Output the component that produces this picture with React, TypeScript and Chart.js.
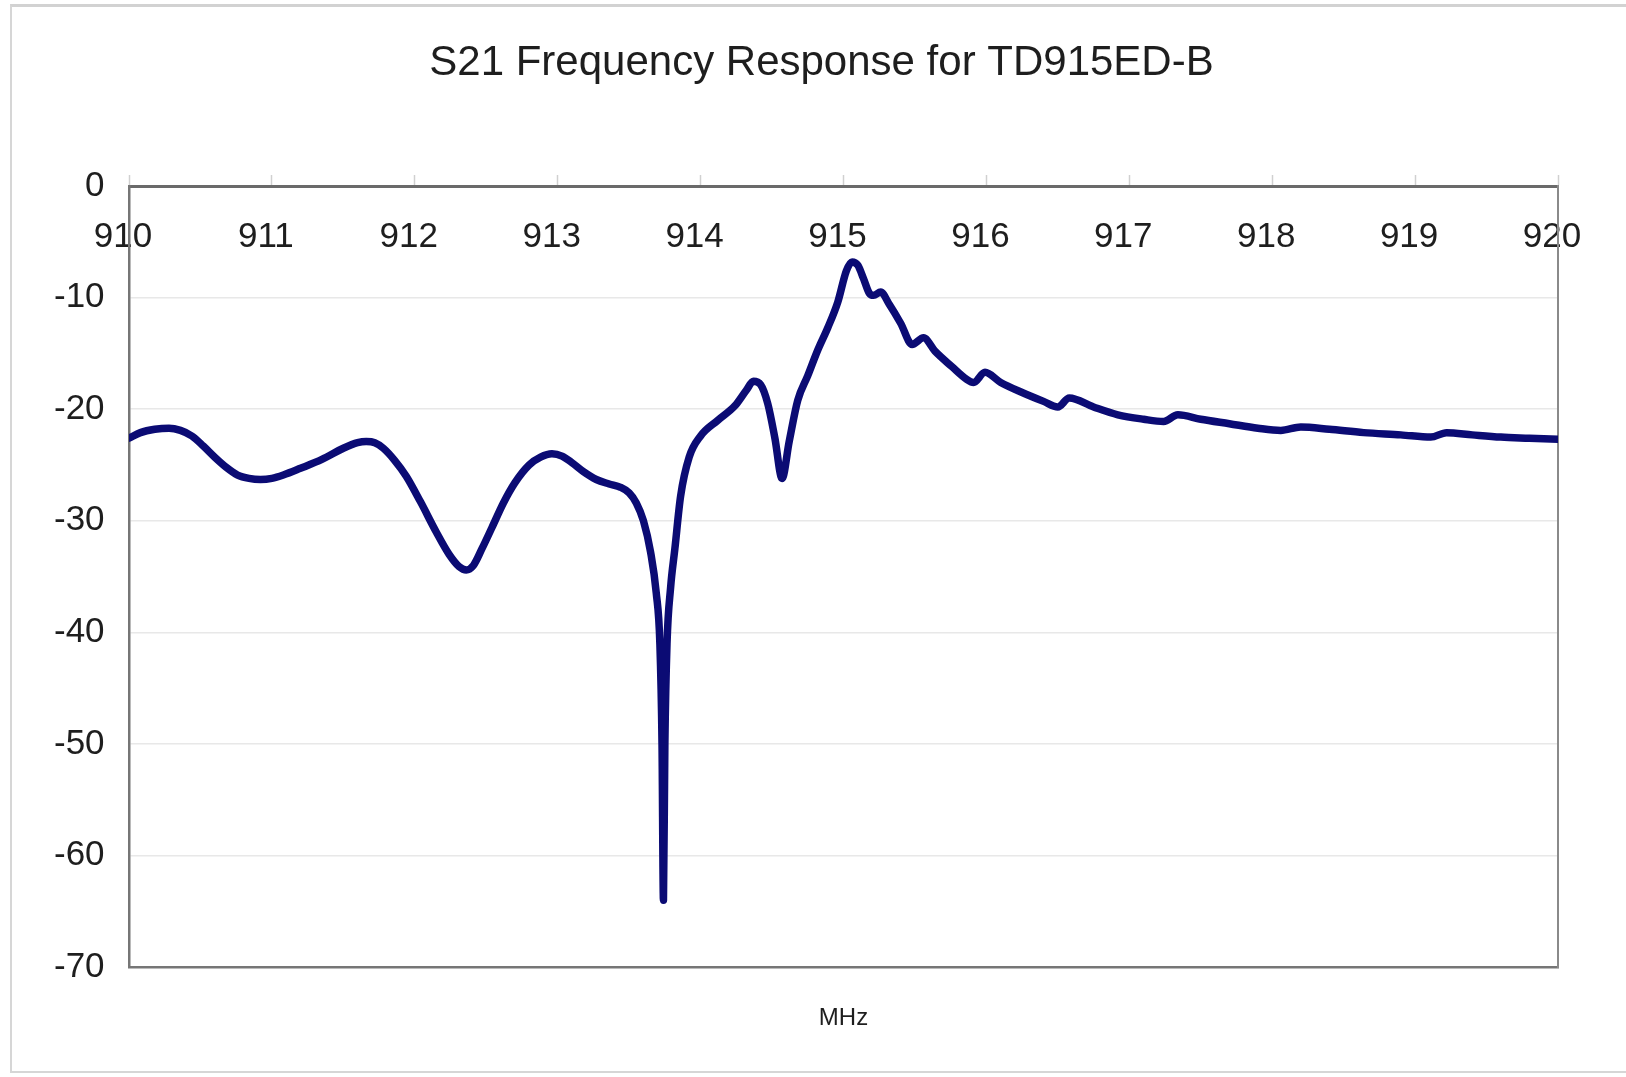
import React, { useEffect, useRef } from 'react';
import { Chart, registerables } from 'chart.js';

Chart.register(...registerables);

const TITLE = 'S21 Frequency Response for TD915ED-B';
const X_UNIT = 'MHz';
const X_MIN = 910;
const X_MAX = 920;
const X_STEP = 1;
const Y_MIN = -70;
const Y_MAX = 0;
const Y_STEP = 10;

const FREQ_MHZ = [
  910.0, 910.08, 910.18, 910.28, 910.36, 910.44, 910.52, 910.6, 910.68, 910.76,
  910.84, 910.92, 911.0, 911.08, 911.2, 911.35, 911.5, 911.6, 911.66, 911.72,
  911.78, 911.86, 911.94, 912.04, 912.15, 912.24, 912.31, 912.36, 912.41, 912.47,
  912.54, 912.62, 912.7, 912.8, 912.88, 912.96, 913.03, 913.1, 913.18, 913.27,
  913.36, 913.44, 913.5, 913.55, 913.6, 913.65, 913.69, 913.715, 913.73, 913.74,
  913.75, 913.765, 913.79, 913.82, 913.86, 913.92, 914.0, 914.12, 914.24, 914.32,
  914.37, 914.42, 914.47, 914.52, 914.57, 914.62, 914.68, 914.75, 914.82, 914.89,
  914.96, 915.02, 915.06, 915.1, 915.14, 915.18, 915.21, 915.26, 915.32, 915.4,
  915.48, 915.56, 915.64, 915.76, 915.86, 915.91, 915.99, 916.1, 916.25, 916.4,
  916.5, 916.58, 916.75, 916.92, 917.1, 917.24, 917.34, 917.5, 917.7, 917.9,
  918.06, 918.2, 918.4, 918.64, 918.9, 919.11, 919.22, 919.4, 919.6, 919.8,
  920.0,
];

const S21_DB = [
  -22.6, -22.1, -21.8, -21.7, -21.9, -22.4, -23.3, -24.3, -25.2, -25.9,
  -26.2, -26.3, -26.2, -25.9, -25.3, -24.5, -23.5, -23.0, -22.9, -23.0,
  -23.5, -24.6, -26.0, -28.3, -31.0, -33.0, -34.1, -34.4, -34.0, -32.5,
  -30.6, -28.4, -26.6, -25.0, -24.3, -24.0, -24.2, -24.8, -25.6, -26.3,
  -26.7, -27.0, -27.5, -28.4, -30.0, -32.8, -36.5, -41.0, -50.0, -64.0,
  -50.0, -41.0, -36.0, -32.5, -27.8, -24.3, -22.4, -21.0, -19.7, -18.3,
  -17.5, -17.8, -19.5, -22.6, -26.2, -22.9, -19.2, -17.0, -14.7, -12.7,
  -10.4, -7.6, -6.8, -7.1, -8.3, -9.6, -9.8, -9.5, -10.6, -12.3,
  -14.2, -13.6, -14.8, -16.2, -17.3, -17.6, -16.7, -17.6, -18.5, -19.3,
  -19.8, -19.0, -19.8, -20.5, -20.9, -21.1, -20.5, -20.9, -21.3, -21.7,
  -21.9, -21.6, -21.8, -22.1, -22.3, -22.5, -22.1, -22.3, -22.5, -22.6,
  -22.7,
];

const FONT = "'Liberation Sans', Arial, Helvetica, sans-serif";
const LINE_COLOR = '#0b0b74';
const TEXT_COLOR = '#1e1e1e';

export default function App() {
  const canvasRef = useRef<HTMLCanvasElement | null>(null);

  useEffect(() => {
    const canvas = canvasRef.current;
    if (!canvas) return;
    const points = FREQ_MHZ.map((f, i) => ({ x: f, y: S21_DB[i] }));
    const chart = new Chart(canvas, {
      type: 'line',
      data: {
        datasets: [
          {
            label: 'S21',
            data: points,
            borderColor: LINE_COLOR,
            borderWidth: 7.5,
            pointRadius: 0,
            fill: false,
            cubicInterpolationMode: 'monotone',
            borderJoinStyle: 'round',
            borderCapStyle: 'round',
          } as any,
        ],
      },
      options: {
        animation: false,
        responsive: false,
        devicePixelRatio: 1,
        layout: { padding: { left: 85, right: 68, top: 0, bottom: 44 } },
        plugins: {
          legend: { display: false },
          tooltip: { enabled: false },
          title: {
            display: true,
            text: TITLE,
            color: TEXT_COLOR,
            font: { family: FONT, size: 42, weight: 'normal' },
            padding: { top: 38, bottom: 0 },
          },
        },
        scales: {
          x: {
            type: 'linear',
            position: 'top',
            min: X_MIN,
            max: X_MAX,
            ticks: {
              stepSize: X_STEP,
              mirror: true,
              padding: 30,
              labelOffset: -6,
              maxRotation: 0,
              minRotation: 0,
              autoSkip: false,
              color: TEXT_COLOR,
              font: { family: FONT, size: 35 },
            },
            grid: {
              drawOnChartArea: false,
              drawTicks: true,
              tickLength: 11,
              tickColor: '#d0d0d0',
              tickWidth: 1.5,
            },
            border: { display: true, color: '#6a6a6a', width: 3 },
            afterFit: (s: any) => {
              s.height = 97.6;
            },
          },
          y: {
            type: 'linear',
            position: 'left',
            min: Y_MIN,
            max: Y_MAX,
            ticks: {
              stepSize: Y_STEP,
              mirror: true,
              crossAlign: 'far',
              padding: -75,
              color: TEXT_COLOR,
              font: { family: FONT, size: 35 },
            },
            grid: { color: '#e8e8e8', lineWidth: 1.5, drawTicks: false },
            border: { display: true, color: '#767676', width: 2.5 },
            afterFit: (s: any) => {
              s.width = 44;
            },
          },
          x2: {
            type: 'linear',
            position: 'bottom',
            ticks: { display: false },
            grid: { display: false, drawTicks: false },
            border: { display: true, color: '#767676', width: 2.5 },
            title: {
              display: true,
              text: X_UNIT,
              color: TEXT_COLOR,
              font: { family: FONT, size: 24 },
              padding: { top: 37, bottom: 0 },
            },
          },
          y2: {
            type: 'linear',
            position: 'right',
            ticks: { display: false },
            grid: { display: false, drawTicks: false },
            border: { display: true, color: '#8a8a8a', width: 2 },
          },
        },
      } as any,
    });
    return () => chart.destroy();
  }, []);

  return (
    <div
      style={{
        position: 'fixed',
        left: 0,
        top: 0,
        width: 1626,
        height: 1077,
        background: '#ffffff',
        overflow: 'hidden',
      }}
    >
      <div
        style={{
          position: 'absolute',
          left: 10,
          top: 4,
          right: -20,
          bottom: 4,
          borderLeft: '2px solid #d6d6d6',
          borderTop: '3px solid #d2d2d2',
          borderBottom: '2px solid #d6d6d6',
        }}
      />
      <canvas
        ref={canvasRef}
        width={1626}
        height={1077}
        style={{ position: 'absolute', left: 0, top: 0, width: 1626, height: 1077 }}
      />
    </div>
  );
}
